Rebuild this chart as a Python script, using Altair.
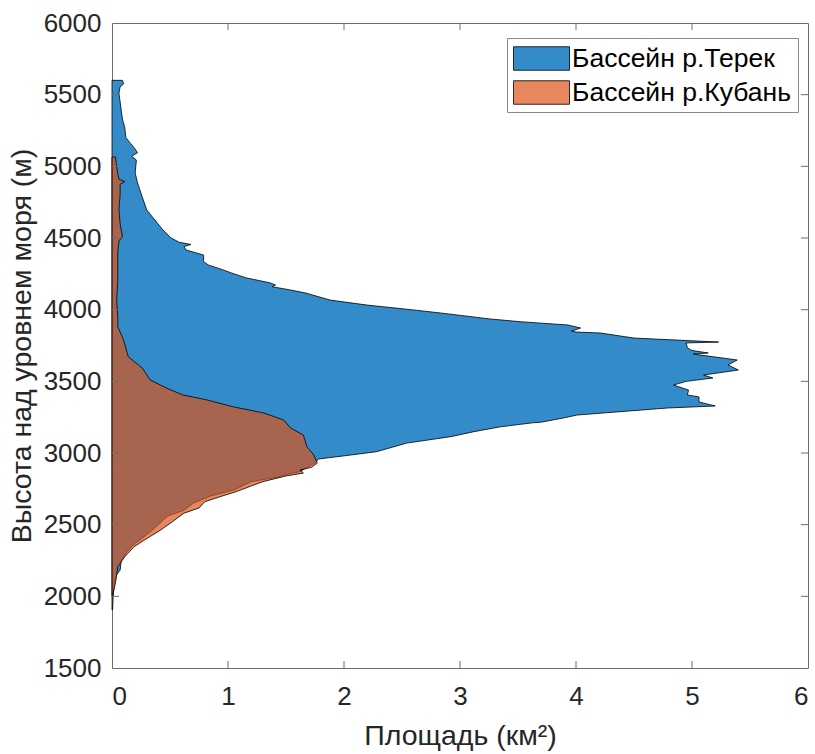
import altair as alt
import pandas as pd

# ---- data ----
terek_elev = [5600, 5575, 5555, 5510, 5450, 5390, 5330, 5270, 5200, 5160, 5120, 5095, 5070, 5044,
              4953, 4884, 4788, 4695, 4625, 4555, 4500, 4470, 4455, 4440, 4416, 4381, 4335, 4312,
              4277, 4256, 4221, 4188, 4172, 4160, 4137, 4116, 4067, 4032, 3998, 3977, 3935, 3916,
              3893, 3872, 3850, 3844, 3837, 3802, 3774, 3768, 3733, 3715, 3698, 3690, 3649, 3614,
              3579, 3544, 3523, 3500, 3474, 3439, 3405, 3391, 3356, 3328, 3314, 3265, 3244, 3215,
              3211, 3183, 3149, 3114, 3069, 3009, 2979, 2958, 2930, 2900, 2870, 2850, 2832, 2800,
              2742, 2700, 2650, 2600, 2560, 2500, 2450, 2400, 2350, 2300, 2250, 2183, 2150, 2100,
              2000, 1905]
terek_area = [0.09, 0.10, 0.07, 0.06, 0.07, 0.08, 0.09, 0.11, 0.12, 0.16, 0.20, 0.22, 0.17, 0.21,
              0.20, 0.22, 0.26, 0.30, 0.37, 0.44, 0.51, 0.58, 0.68, 0.62, 0.64, 0.79, 0.79, 0.83,
              0.96, 1.03, 1.16, 1.36, 1.41, 1.38, 1.54, 1.67, 1.88, 2.20, 2.60, 2.83, 3.26, 3.52,
              3.93, 4.04, 3.96, 4.00, 4.21, 4.50, 5.23, 4.95, 4.96, 5.00, 5.14, 5.01, 5.39, 5.31,
              5.40, 5.10, 5.18, 4.95, 4.84, 4.97, 4.96, 5.06, 5.06, 5.20, 4.79, 4.01, 3.89, 3.70,
              3.63, 3.35, 3.12, 2.92, 2.54, 2.28, 1.99, 1.78, 1.75, 1.68, 1.62, 1.50, 1.43, 1.20,
              1.05, 0.85, 0.70, 0.62, 0.48, 0.40, 0.33, 0.25, 0.17, 0.12, 0.08, 0.07, 0.04, 0.02,
              0.01, 0.005]

kuban_elev = [5065, 5000, 4950, 4910, 4893, 4875, 4800, 4700, 4600, 4509, 4480, 4400, 4200, 4067,
              3950, 3881, 3788, 3672, 3593, 3509, 3453, 3405, 3370, 3323, 3279, 3230, 3174, 3125,
              3044, 2986, 2930, 2900, 2881, 2860, 2840, 2800, 2770, 2730, 2700, 2660, 2616, 2580,
              2520, 2463, 2393, 2346, 2276, 2207, 2150, 2093, 2023, 2000]
kuban_area = [0.03, 0.04, 0.05, 0.06, 0.11, 0.07, 0.07, 0.06, 0.07, 0.09, 0.06, 0.05, 0.05, 0.04,
              0.05, 0.05, 0.10, 0.14, 0.26, 0.33, 0.47, 0.61, 0.82, 1.04, 1.31, 1.48, 1.54, 1.65,
              1.68, 1.74, 1.77, 1.72, 1.62, 1.65, 1.50, 1.30, 1.20, 1.07, 0.95, 0.80, 0.75, 0.62,
              0.52, 0.42, 0.28, 0.19, 0.11, 0.05, 0.04, 0.03, 0.01, 0.005]

series_names = ["Бассейн р.Терек", "Бассейн р.Кубань"]
x_ticks = [0, 1, 2, 3, 4, 5, 6]
y_ticks = [1500, 2000, 2500, 3000, 3500, 4000, 4500, 5000, 5500, 6000]

assert len(terek_elev) == len(terek_area)
assert len(kuban_elev) == len(kuban_area)

terek = pd.DataFrame({"elev": terek_elev, "area": terek_area})
kuban = pd.DataFrame({"elev": kuban_elev, "area": kuban_area})
xt = pd.DataFrame({"area": x_ticks[1:-1]})
yt = pd.DataFrame({"elev": y_ticks[1:-1]})
# legend-only entries, placed outside the (clipped) plot domain
leg = pd.DataFrame({"series": series_names, "area": [-1, -1], "elev": [1000, 1000]})

W, H = 696, 645
FONT = "Liberation Sans"
TXT = "#262626"
FRAME = "#6e6e6e"
BLUE = "#338CC9"
ORANGE = "#D95319"
ORANGE_ON_WHITE = "#E6875E"

x_scale = alt.Scale(domain=[0, 6], nice=False, zero=False)
y_scale = alt.Scale(domain=[1500, 6000], nice=False, zero=False)

x_axis = alt.Axis(values=x_ticks, format="d", title="Площадь (км²)", ticks=False, domain=False,
                  grid=False, labelPadding=15, titlePadding=12)
y_axis = alt.Axis(values=y_ticks, format="d", title="Высота над уровнем моря (м)", ticks=False,
                  domain=False, grid=False, labelPadding=11, titlePadding=7)

def X():
    return alt.X("area:Q", scale=x_scale, axis=x_axis, stack=None)

def Y():
    return alt.Y("elev:Q", scale=y_scale, axis=y_axis)

legend = alt.Legend(
    title=None, orient="none", legendX=395, legendY=15,
    symbolType="M-2,-0.84H2V0.84H-2Z", symbolSize=784, symbolOffset=14,
    symbolStrokeColor="black", symbolStrokeWidth=0.8, symbolOpacity=1,
    labelFontSize=26.5, labelFont=FONT, labelColor="black", labelOffset=16, labelLimit=0,
    strokeColor="#8a8a8a", fillColor="white", padding=6, rowPadding=6,
)

blue = alt.Chart(terek).mark_area(
    orient="horizontal", stroke="black", strokeWidth=0.8, fill=BLUE, fillOpacity=1
).encode(x=X(), y=Y())

orange = alt.Chart(kuban).mark_area(
    orient="horizontal", stroke="black", strokeWidth=0.8, fill=ORANGE, fillOpacity=0.7,
    strokeOpacity=1
).encode(x=X(), y=Y())

legend_layer = alt.Chart(leg).mark_point(
    filled=True, clip=True, stroke="black", strokeWidth=0.8
).encode(
    x=X(), y=Y(),
    color=alt.Color("series:N", sort=series_names,
                    scale=alt.Scale(domain=series_names, range=[BLUE, ORANGE_ON_WHITE]),
                    legend=legend),
)

TL = 7
tick_bottom = alt.Chart(xt).mark_rule(color=FRAME, strokeWidth=1).encode(
    x=X(), y=alt.value(H), y2=alt.value(H - TL))
tick_top = alt.Chart(xt).mark_rule(color=FRAME, strokeWidth=1).encode(
    x=X(), y=alt.value(0), y2=alt.value(TL))
tick_left = alt.Chart(yt).mark_rule(color=FRAME, strokeWidth=1).encode(
    y=Y(), x=alt.value(0), x2=alt.value(TL))
tick_right = alt.Chart(yt).mark_rule(color=FRAME, strokeWidth=1).encode(
    y=Y(), x=alt.value(W), x2=alt.value(W - TL))

chart = alt.layer(blue, orange, legend_layer, tick_bottom, tick_top, tick_left, tick_right).properties(
    width=W, height=H,
    autosize=alt.AutoSizeParams(type="none"),
    padding={"left": 112, "top": 23, "right": 7, "bottom": 86},
    background="white",
).configure_view(
    stroke=FRAME, strokeWidth=1
).configure_axis(
    labelFont=FONT, labelFontSize=26, labelColor=TXT,
    titleFont=FONT, titleFontSize=28.5, titleColor=TXT, titleFontWeight="normal",
)

chart.save("out.html", embed_options={"renderer": "svg", "actions": False})
